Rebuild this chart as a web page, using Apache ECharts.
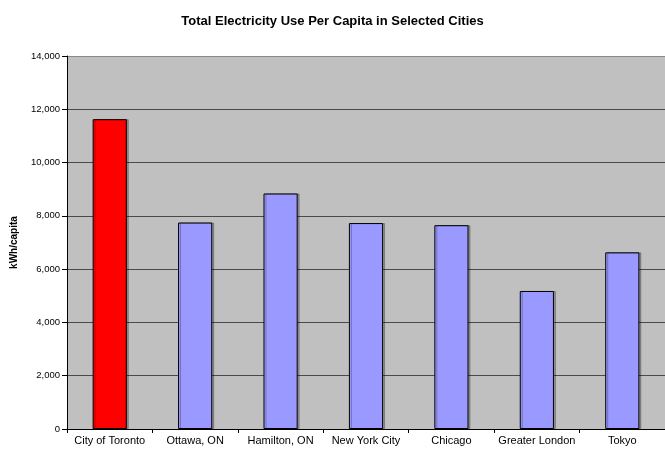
<!DOCTYPE html>
<html>
<head>
<meta charset="utf-8">
<script src="https://cdn.jsdelivr.net/npm/echarts@6/dist/echarts.min.js"></script>
<style>
  html, body { margin: 0; padding: 0; background: #fff; }
  #chart { width: 665px; height: 449px; }
</style>
</head>
<body>
<div id="chart"></div>
<script>
// Per-capita electricity use, kWh per person
const cities = ['City of Toronto', 'Ottawa, ON', 'Hamilton, ON', 'New York City', 'Chicago', 'Greater London', 'Tokyo'];
const kwhPerCapita = [11630, 7750, 8840, 7730, 7650, 5180, 6630];
const highlightCity = 'City of Toronto';

const chart = echarts.init(document.getElementById('chart'), null, { renderer: 'canvas' });

// gridline colours, one per split line from 0 to 14,000 (top edge lighter)
const gridColors = ['#4a4a4a', '#4a4a4a', '#4a4a4a', '#4a4a4a', '#4a4a4a', '#4a4a4a', '#4a4a4a', '#8a8a8a'];

chart.setOption({
  animation: false,
  backgroundColor: '#ffffff',
  textStyle: { fontFamily: 'Liberation Sans, Arial, sans-serif' },
  title: {
    text: 'Total Electricity Use Per Capita in Selected Cities',
    left: 'center',
    top: 10,
    textStyle: { fontSize: 13, fontWeight: 'bold', color: '#000', fontFamily: 'Liberation Sans, Arial, sans-serif' }
  },
  grid: {
    left: 67,
    right: -8,
    top: 56,
    bottom: 20,
    show: true,
    backgroundColor: '#c0c0c0',
    borderWidth: 0
  },
  xAxis: {
    type: 'category',
    data: cities,
    axisLine: { show: true, lineStyle: { color: '#000', width: 1 } },
    axisTick: { show: true, alignWithLabel: false, length: 4, inside: false, lineStyle: { color: '#000' } },
    axisLabel: { color: '#000', fontSize: 11, margin: 6, interval: 0 },
    splitLine: { show: false }
  },
  yAxis: {
    type: 'value',
    min: 0,
    max: 14000,
    interval: 2000,
    name: 'kWh/capita',
    nameLocation: 'middle',
    nameGap: 48,
    nameRotate: 90,
    nameTextStyle: { fontSize: 10, fontWeight: 'bold', color: '#000' },
    axisLine: { show: true, lineStyle: { color: '#000', width: 1 } },
    axisTick: { show: true, length: 5, lineStyle: { color: '#000' } },
    axisLabel: {
      color: '#000',
      fontSize: 9.5,
      margin: 7,
      formatter: v => v.toLocaleString('en-US')
    },
    splitLine: { show: true, lineStyle: { color: gridColors, width: 1 } }
  },
  series: [{
    type: 'bar',
    barWidth: '40%',
    data: cities.map((c, i) => ({
      value: kwhPerCapita[i],
      itemStyle: {
        color: c === highlightCity ? '#ff0000' : '#9999ff',
        borderColor: '#000',
        borderWidth: 1,
        shadowColor: 'rgba(0,0,0,0.25)',
        shadowOffsetX: 2,
        shadowOffsetY: 0,
        shadowBlur: 0
      }
    }))
  }]
});
</script>
</body>
</html>
